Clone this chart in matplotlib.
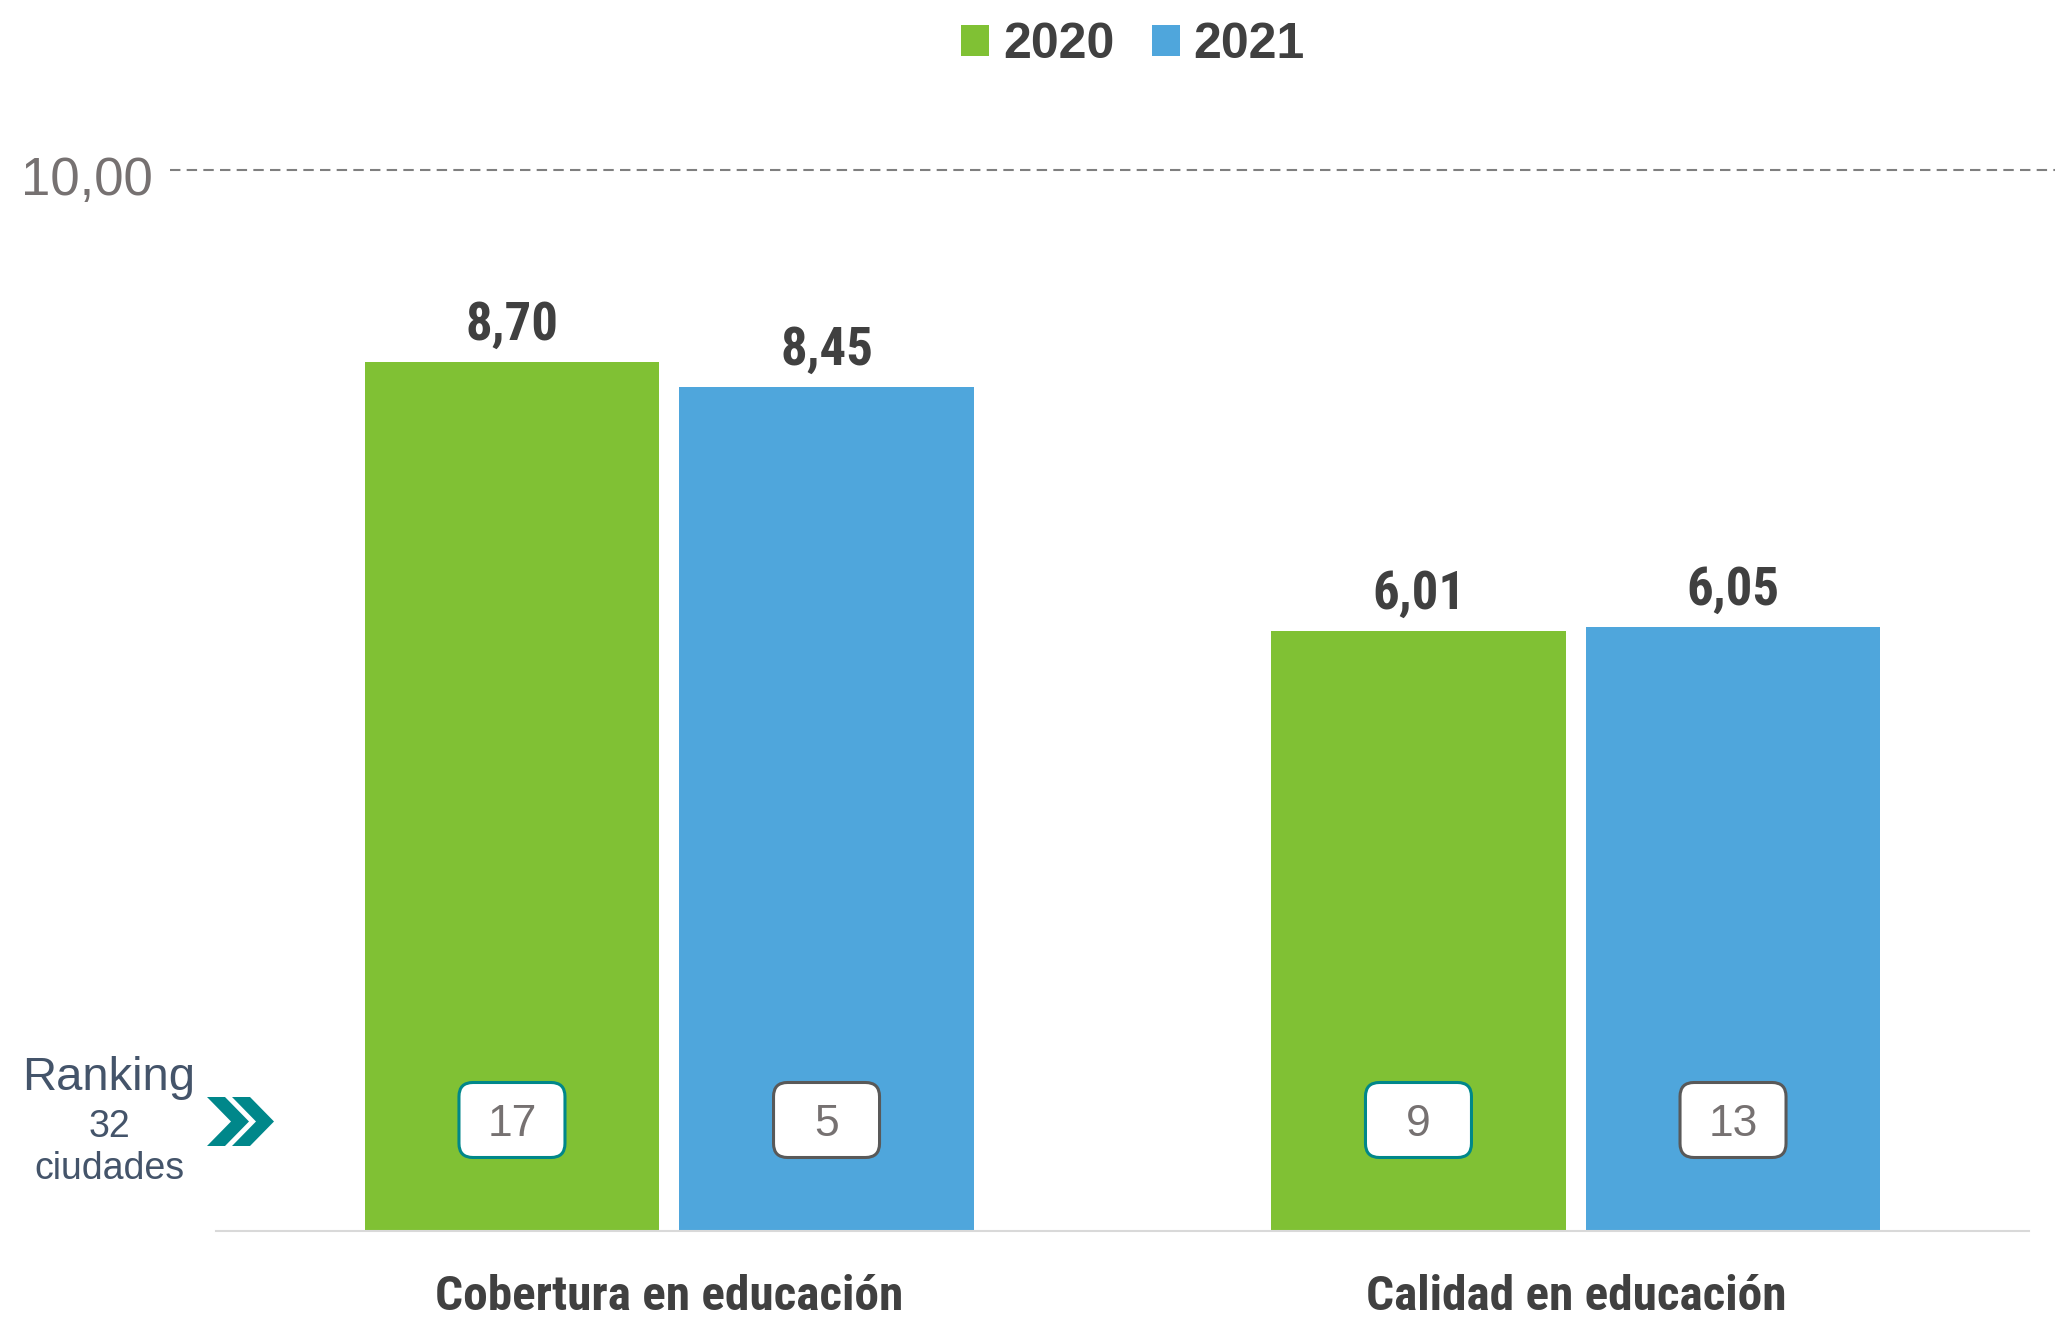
import numpy as np
import matplotlib
matplotlib.use('Agg')
import matplotlib.pyplot as plt
from matplotlib.patches import Patch, Polygon, FancyBboxPatch
from matplotlib.transforms import IdentityTransform

# 数据
categorias = ['Cobertura en educación', 'Calidad en educación']
anios = ['2020', '2021']
valores_2020 = [8.70, 6.01]
valores_2021 = [8.45, 6.05]
ranking_2020 = [17, 9]
ranking_2021 = [5, 13]
ref_label = '10,00'

# 颜色
verde = '#80C134'
azul = '#4FA6DC'
gris_texto = '#404040'
gris_claro = '#767171'
teal = '#00878A'

narrow = ['Roboto Condensed', 'Liberation Sans', 'DejaVu Sans']
normal = ['Liberation Sans', 'DejaVu Sans']

W, H = 2055, 1319
fig = plt.figure(figsize=(W / 100, H / 100), dpi=100)
ax = fig.add_axes([216 / W, 88 / H, (2029 - 216) / W, (1231 - 170) / H])

x = np.arange(len(categorias))
ancho = 0.325
desp = 0.1735
ytop = 10.62

b1 = ax.bar(x - desp, valores_2020, ancho, color=verde, zorder=2)
b2 = ax.bar(x + desp, valores_2021, ancho, color=azul, zorder=2)

ax.set_xlim(-0.5, 1.5)
ax.set_ylim(0, ytop)

# 柱顶数值
for bars, vals in [(b1, valores_2020), (b2, valores_2021)]:
    for b, v in zip(bars, vals):
        ax.annotate(f'{v:.2f}'.replace('.', ','), (b.get_x() + b.get_width() / 2, v),
                    xytext=(0, 16), textcoords='offset points', ha='center', va='baseline',
                    fontsize=38, fontweight='bold', color=gris_texto, family=narrow)

# 坐标轴样式
for s in ['top', 'left', 'right']:
    ax.spines[s].set_visible(False)
ax.spines['bottom'].set_color('#D9D9D9')
ax.spines['bottom'].set_linewidth(1.5)
ax.set_yticks([])
ax.set_xticks(x)
ax.set_xticklabels(categorias, fontsize=35.5, fontweight='bold', color=gris_texto, family=narrow)
ax.tick_params(axis='x', length=0, pad=31)

# 参考虚线 10,00
ax.axhline(ytop, xmin=(170 - 216) / 1813, xmax=(2055 - 216) / 1813, color='#7F7F7F',
           linestyle=(0, (5, 3)), linewidth=1.5, clip_on=False)
ax.text((153 - 216) / 1813, 1 - 25 / 1061, ref_label, transform=ax.transAxes, ha='right',
        va='baseline', fontsize=38, color=gris_claro, family=normal)

# 排名方框
def badge(cx, label, edge):
    px, _ = ax.transData.transform((cx, 0))
    py = H - 1120
    w, h = 106, 75
    box = FancyBboxPatch((px - w / 2, py - h / 2), w, h, boxstyle='round,pad=0,rounding_size=14',
                         transform=IdentityTransform(), facecolor='white', edgecolor=edge,
                         linewidth=2.2, zorder=5)
    fig.add_artist(box)
    fig.text(px / W, (py - 16) / H, str(label), ha='center', va='baseline', fontsize=32,
             color=gris_claro, family=normal, zorder=6)

for xi, r in zip(x - desp, ranking_2020):
    badge(xi, r, teal)
for xi, r in zip(x + desp, ranking_2021):
    badge(xi, r, '#595959')

# Ranking 文字和箭头
azul_osc = '#44546A'
fig.text(109 / W, (H - 1090) / H, 'Ranking', ha='center', va='baseline', fontsize=34,
         color=azul_osc, family=normal)
fig.text(109 / W, (H - 1137) / H, '32', ha='center', va='baseline', fontsize=27,
         color=azul_osc, family=normal)
fig.text(109 / W, (H - 1179) / H, 'ciudades', ha='center', va='baseline', fontsize=27,
         color=azul_osc, family=normal)

for dx in [0, 25]:
    x0 = 207 + dx
    pts = [(x0, 1097), (x0 + 18, 1097), (x0 + 42, 1121.5), (x0 + 18, 1146),
           (x0, 1146), (x0 + 24, 1121.5)]
    pts = [(p, H - q) for p, q in pts]
    fig.add_artist(Polygon(pts, closed=True, facecolor=teal, edgecolor='none',
                           transform=IdentityTransform()))

# 图例
handles = [Patch(facecolor=verde), Patch(facecolor=azul)]
fig.legend(handles, anios, loc='center', bbox_to_anchor=(1133 / W, 1 - 45 / H), ncol=2,
           frameon=False, prop={'family': normal, 'weight': 'bold', 'size': 36},
           handlelength=0.56, handleheight=0.56, handletextpad=0.28, columnspacing=0.74,
           labelcolor=gris_texto, borderpad=0)

plt.savefig('out.png', dpi=100)
